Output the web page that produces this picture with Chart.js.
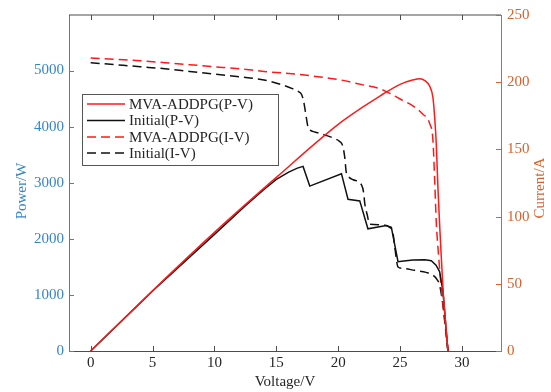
<!DOCTYPE html>
<html lang="en">
<head>
    <meta charset="UTF-8">
    <title>P-V / I-V curves</title>
    <script src="https://cdn.jsdelivr.net/npm/chart.js"></script>
    <style>
        body { margin: 0; background: #fff; }
        canvas { display: block; }
    </style>
</head>
<body>
    <canvas id="myChart" width="551" height="392"></canvas>
    <script>
        // curve data
        const redPV_V = [0, 5, 10, 15, 20, 22, 23.4, 25, 26, 26.6, 27, 27.38, 27.65, 27.79, 27.92, 28.06, 28.25, 28.46, 28.66, 28.86];
        const redPV_P = [0, 1075, 2115, 3095, 4040, 4350, 4550, 4754, 4830, 4854, 4820, 4724, 4520, 4169, 3700, 2880, 2000, 1124, 550, 0];

        const blackPV_V = [0, 5, 10, 12.5, 14, 15, 16, 16.7, 17.16, 17.7, 20.26, 20.79, 21.74, 22.4, 23.89, 24.29, 24.83, 25.3, 26.04, 27.0, 27.52, 27.9, 28.19, 28.46, 28.86];
        const blackPV_P = [0, 1070, 2080, 2590, 2880, 3060, 3190, 3260, 3291, 2940, 3161, 2705, 2676, 2178, 2237, 2207, 1593, 1605, 1623, 1625, 1610, 1530, 1417, 1066, 0];

        const redIV_V = [0, 2, 4, 6, 8, 10, 12, 14, 16, 18, 20, 22, 23.4, 24.2, 25, 26, 26.8, 27.4, 27.65, 27.8, 27.92, 28.1, 28.33, 28.55, 28.73, 28.9];
        const redIV_I = [218, 217, 216, 214.5, 213, 211.5, 210, 208, 206.5, 204.5, 202, 198, 195, 191.5, 187.5, 182.5, 176.5, 169, 157, 125, 96, 72, 46.5, 28, 12.5, 0];

        const blackIV_V = [0, 2, 4, 6, 8, 10, 12, 14, 15.5, 16.35, 16.8, 17.03, 17.2, 17.35, 17.56, 17.8, 18.1, 19, 19.72, 20.1, 20.35, 20.52, 20.66, 20.9, 21.2, 21.87, 22.05, 22.14, 22.35, 22.54, 23.35, 24.16, 24.42, 24.6, 24.83, 25.2, 26.17, 27.1, 27.66, 28.0, 28.19, 28.4, 28.86];
        const blackIV_I = [214.5, 213, 211.5, 210, 208, 206, 204, 201.6, 198, 195, 193, 191, 186, 178, 166.6, 164, 163, 160.5, 158, 156, 153, 144.6, 132.3, 129, 127.4, 123.7, 118, 110, 101, 94.3, 94, 92, 88, 75, 62.5, 61.5, 60, 58.5, 56.4, 53, 49, 38, 0];

        const seriesLabels = ['MVA-ADDPG(P-V)', 'Initial(P-V)', 'MVA-ADDPG(I-V)', 'Initial(I-V)'];
        const xTicks = [0, 5, 10, 15, 20, 25, 30];
        const yLeftTicks = [0, 1000, 2000, 3000, 4000, 5000];
        const yRightTicks = [0, 50, 100, 150, 200, 250];
        const xTitle = 'Voltage/V';
        const yLeftTitle = 'Power/W';
        const yRightTitle = 'Current/A';

        const FONT = 'Liberation Serif';
        const BLUE = '#3585cc';
        const ORANGE = '#d9622b';
        const AXIS = '#4d4d4d';
        const TEXT = '#262626';

        function pts(xs, ys) {
            return xs.map((x, i) => ({ x: x, y: ys[i] }));
        }
        function fixedTicks(list) {
            return s => { s.ticks = list.map(v => ({ value: v })); };
        }
        const plain = v => String(v);

        // frame, inward ticks, y titles and legend box (MATLAB look)
        const matlabFrame = {
            id: 'matlabFrame',
            afterDraw(chart) {
                const { ctx, chartArea: a, scales } = chart;
                const seg = (x1, y1, x2, y2) => {
                    ctx.beginPath(); ctx.moveTo(x1, y1); ctx.lineTo(x2, y2); ctx.stroke();
                };
                ctx.save();
                ctx.lineWidth = 1;
                ctx.strokeStyle = AXIS;
                seg(a.left, a.top, a.right, a.top);
                scales.x.ticks.forEach(t => {
                    const px = Math.round(scales.x.getPixelForValue(t.value)) + 0.5;
                    seg(px, a.bottom, px, a.bottom - 5);
                    seg(px, a.top, px, a.top + 5);
                });
                ctx.strokeStyle = BLUE;
                scales.yL.ticks.forEach(t => {
                    const py = Math.round(scales.yL.getPixelForValue(t.value)) + 0.5;
                    seg(a.left, py, a.left + 5, py);
                });
                ctx.strokeStyle = ORANGE;
                scales.yR.ticks.forEach(t => {
                    const py = Math.round(scales.yR.getPixelForValue(t.value)) + 0.5;
                    seg(a.right, py, a.right - 5, py);
                });

                // y axis titles, both reading bottom to top
                ctx.font = '15px "' + FONT + '"';
                ctx.textAlign = 'center';
                ctx.textBaseline = 'middle';
                ctx.fillStyle = BLUE;
                ctx.save(); ctx.translate(22, 191); ctx.rotate(-Math.PI / 2);
                ctx.fillText(yLeftTitle, 0, 0); ctx.restore();
                ctx.fillStyle = ORANGE;
                ctx.save(); ctx.translate(540, 188); ctx.rotate(-Math.PI / 2);
                ctx.fillText(yRightTitle, 0, 0); ctx.restore();

                // legend
                const bx = 82, by = 94, bw = 196, bh = 71;
                ctx.fillStyle = '#fff';
                ctx.fillRect(bx, by, bw, bh);
                ctx.strokeStyle = '#555';
                ctx.strokeRect(bx + 0.5, by + 0.5, bw, bh);
                const rows = [104, 120.5, 137, 153];
                ctx.textAlign = 'left';
                ctx.font = '15px "' + FONT + '"';
                chart.data.datasets.forEach((ds, i) => {
                    ctx.strokeStyle = ds.borderColor;
                    ctx.lineWidth = ds.borderWidth;
                    ctx.setLineDash(ds.borderDash || []);
                    seg(87, rows[i], 125, rows[i]);
                    ctx.setLineDash([]);
                    ctx.fillStyle = TEXT;
                    ctx.fillText(ds.label, 129, rows[i] + 1);
                });
                ctx.restore();
            }
        };

        const ctx = document.getElementById('myChart').getContext('2d');
        new Chart(ctx, {
            type: 'line',
            data: {
                datasets: [
                    {
                        label: seriesLabels[0], data: pts(redPV_V, redPV_P), yAxisID: 'yL',
                        borderColor: '#ff1a1a', borderWidth: 1.5, pointRadius: 0,
                        cubicInterpolationMode: 'monotone', order: 1
                    },
                    {
                        label: seriesLabels[1], data: pts(blackPV_V, blackPV_P), yAxisID: 'yL',
                        borderColor: '#111', borderWidth: 1.5, pointRadius: 0,
                        tension: 0, order: 2
                    },
                    {
                        label: seriesLabels[2], data: pts(redIV_V, redIV_I), yAxisID: 'yR',
                        borderColor: '#ff1a1a', borderWidth: 1.5, borderDash: [9, 5], pointRadius: 0,
                        cubicInterpolationMode: 'monotone', order: 3
                    },
                    {
                        label: seriesLabels[3], data: pts(blackIV_V, blackIV_I), yAxisID: 'yR',
                        borderColor: '#111', borderWidth: 1.5, borderDash: [9, 5], pointRadius: 0,
                        cubicInterpolationMode: 'monotone', order: 4
                    }
                ]
            },
            options: {
                responsive: false,
                animation: false,
                layout: { padding: { top: 9, left: 0, right: 0, bottom: 0 } },
                plugins: { legend: { display: false }, tooltip: { enabled: false } },
                scales: {
                    x: {
                        type: 'linear', position: 'bottom', min: -1.75, max: 33.15,
                        afterBuildTicks: fixedTicks(xTicks),
                        ticks: { callback: plain, color: TEXT, padding: 3, maxRotation: 0, font: { family: FONT, size: 15 } },
                        grid: { display: false, drawTicks: false },
                        border: { color: AXIS, width: 1 },
                        title: { display: true, text: xTitle, color: TEXT, font: { family: FONT, size: 15 }, padding: { top: 0, bottom: 1 } },
                        afterFit: s => { s.height = 41; }
                    },
                    yL: {
                        type: 'linear', position: 'left', min: 0, max: 5990,
                        afterBuildTicks: fixedTicks(yLeftTicks),
                        ticks: { callback: plain, color: BLUE, padding: 5, font: { family: FONT, size: 15 } },
                        grid: { display: false, drawTicks: false },
                        border: { color: BLUE, width: 1 },
                        afterFit: s => { s.width = 69; }
                    },
                    yR: {
                        type: 'linear', position: 'right', min: 0, max: 250,
                        afterBuildTicks: fixedTicks(yRightTicks),
                        ticks: { callback: plain, color: ORANGE, padding: 6, font: { family: FONT, size: 15 } },
                        grid: { display: false, drawTicks: false },
                        border: { color: ORANGE, width: 1 },
                        afterFit: s => { s.width = 50; }
                    }
                }
            },
            plugins: [matlabFrame]
        });
    </script>
</body>
</html>
